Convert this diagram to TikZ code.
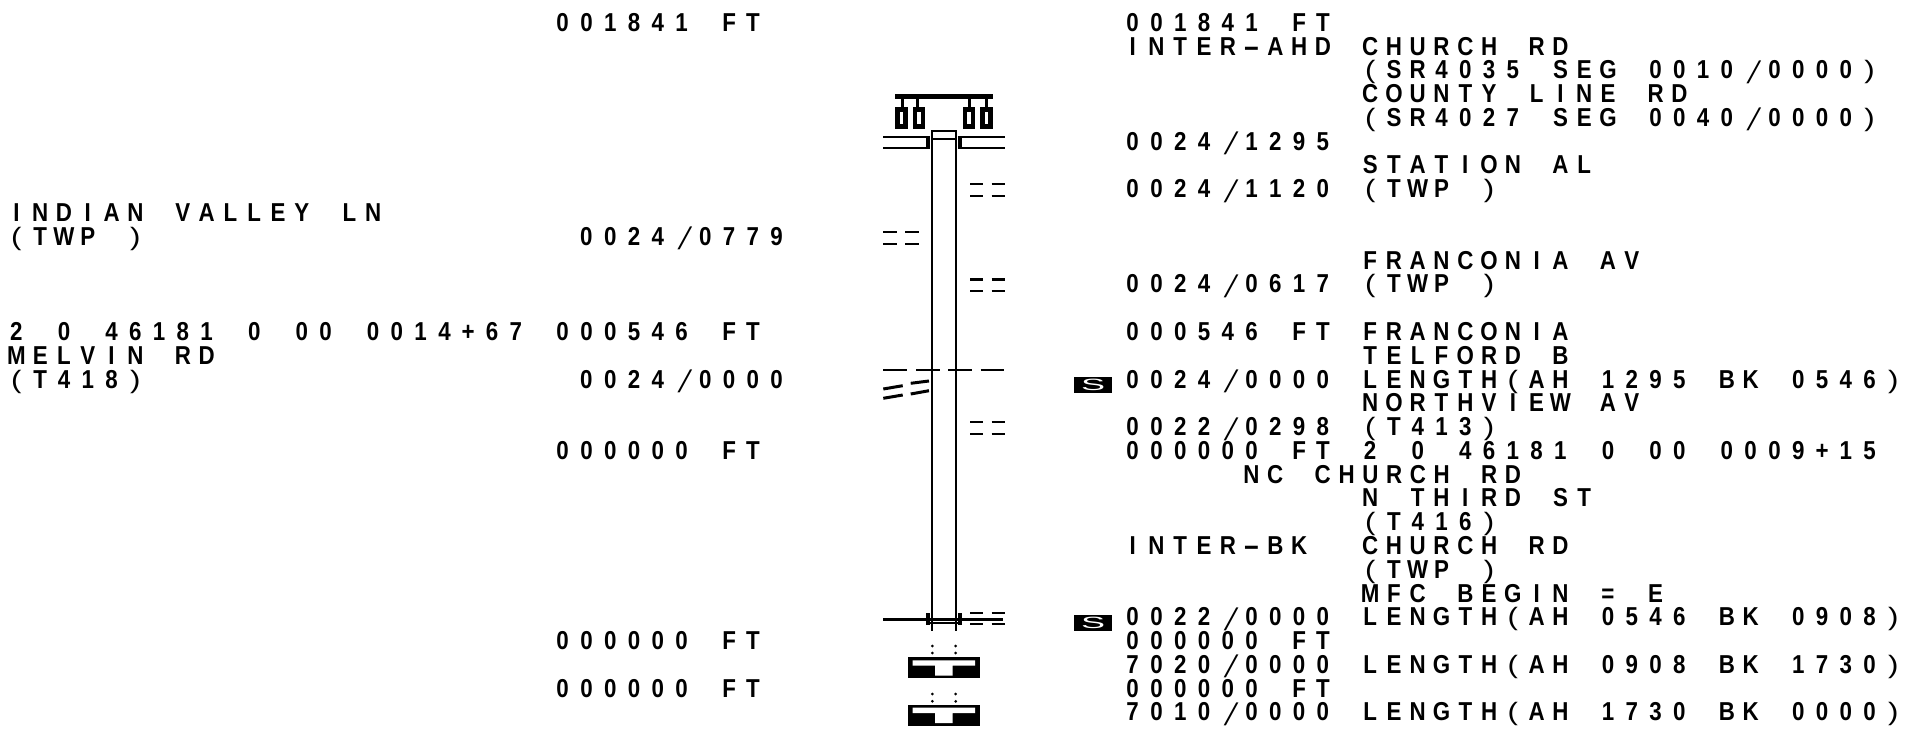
\documentclass[tikz,border=0pt]{standalone}
\usepackage{graphicx}
\usepackage{fontspec}
\setmainfont{Liberation Sans}[BoldFont={Liberation Sans Bold}]
\newfontfamily\slashf{Liberation Sans}[FakeSlant=0.32]
\newlength\cellw \setlength\cellw{23.78pt}
\def\monochar#1{\makebox[\cellw][c]{\ifx#1/\raisebox{-4.5pt}{\scalebox{1.2}[1.3]{\mdseries\slashf/}}\else\ifx#1(\scalebox{1.3}[1.05]{\mdseries(}\else\ifx#1)\scalebox{1.3}[1.05]{\mdseries)}\else\ifx#1-\scalebox{2.1}[1.08]{-}\else\scalebox{.93}[1.08]{#1}\fi\fi\fi\fi}}
\def\monoword#1{\monoloop#1\monoend}
\def\monoloop#1{\ifx#1\monoend\else\monochar{#1}\expandafter\monoloop\fi}
\def\monosplit#1 #2\monostop{\monoword{#1}\ifx\relax#2\relax\else\makebox[\cellw]{ }\monosplit#2\monostop\fi}
\def\monoline#1{\monosplit#1 \monostop}
\newcommand\tl[4]{\node[txt] (#1) at ({1120.8+23.75*(#2)},{31.3+23.78*(#3)}) {\monoline{#4}};}
\tikzset{
  txt/.style={anchor=base west,inner sep=0pt,outer sep=0pt,font=\fontsize{24}{24}\selectfont\bfseries,text=black},
  ln/.style={line width=2.3pt,black,line cap=butt},
  thick2/.style={line width=4.2pt,black,line cap=butt},
  mark2/.style={fill=black,draw=none},
  hole/.style={fill=white,draw=none},
  sbox/.style={fill=black,minimum width=38pt,minimum height=16pt,inner sep=0pt,text=white,font=\fontsize{24}{24}\selectfont}
}
\begin{document}
\begin{tikzpicture}[x=1pt,y=-1pt]
\fill[white] (0,0) rectangle (1907,736);
\useasboundingbox (0,0) rectangle (1907,736);
% left text
\tl{l1}{-24}{0}{001841 FT}
\tl{l2}{-47}{8}{INDIAN VALLEY LN}
\tl{l3}{-47}{9}{(TWP )}
\tl{l4}{-23}{9}{0024/0779}
\tl{l5}{-47}{13}{2 0 46181 0 00 0014+67}
\tl{l6}{-24}{13}{000546 FT}
\tl{l7}{-47}{14}{MELVIN RD}
\tl{l8}{-47}{15}{(T418)}
\tl{l9}{-23}{15}{0024/0000}
\tl{l10}{-24}{18}{000000 FT}
\tl{l11}{-24}{26}{000000 FT}
\tl{l12}{-24}{28}{000000 FT}
% right text, first column
\tl{a0}{0}{0}{001841 FT}
\tl{a1}{0}{1}{INTER-AHD}
\tl{a5}{0}{5}{0024/1295}
\tl{a7}{0}{7}{0024/1120}
\tl{a11}{0}{11}{0024/0617}
\tl{a13}{0}{13}{000546 FT}
\tl{a15}{0}{15}{0024/0000}
\tl{a17}{0}{17}{0022/0298}
\tl{a18}{0}{18}{000000 FT}
\tl{a19}{5}{19}{NC CHURCH RD}
\tl{a22}{0}{22}{INTER-BK}
\tl{a25}{0}{25}{0022/0000}
\tl{a26}{0}{26}{000000 FT}
\tl{a27}{0}{27}{7020/0000}
\tl{a28}{0}{28}{000000 FT}
\tl{a29}{0}{29}{7010/0000}
% right text, second column
\tl{b1}{10}{1}{CHURCH RD}
\tl{b2}{10}{2}{(SR4035 SEG 0010/0000)}
\tl{b3}{10}{3}{COUNTY LINE RD}
\tl{b4}{10}{4}{(SR4027 SEG 0040/0000)}
\tl{b6}{10}{6}{STATION AL}
\tl{b7}{10}{7}{(TWP )}
\tl{b10}{10}{10}{FRANCONIA AV}
\tl{b11}{10}{11}{(TWP )}
\tl{b13}{10}{13}{FRANCONIA}
\tl{b14}{10}{14}{TELFORD B}
\tl{b15}{10}{15}{LENGTH(AH 1295 BK 0546)}
\tl{b16}{10}{16}{NORTHVIEW AV}
\tl{b17}{10}{17}{(T413)}
\tl{b18}{10}{18}{2 0 46181 0 00 0009+15}
\tl{b20}{10}{20}{N THIRD ST}
\tl{b21}{10}{21}{(T416)}
\tl{b22}{10}{22}{CHURCH RD}
\tl{b23}{10}{23}{(TWP )}
\tl{b24}{10}{24}{MFC BEGIN = E}
\tl{b25}{10}{25}{LENGTH(AH 0546 BK 0908)}
\tl{b27}{10}{27}{LENGTH(AH 0908 BK 1730)}
\tl{b29}{10}{29}{LENGTH(AH 1730 BK 0000)}
% S markers
\node[sbox] (s1) at (1093,385.3) {\scalebox{1.5}[.68]{S}};
\node[sbox] (s2) at (1093,622.6) {\scalebox{1.5}[.68]{S}};
% pier cap and columns
\fill[mark2] (895,94) rectangle (993,99.3);
\foreach \x in {902,917.7,969,986.3}{
  \draw[line width=3pt] (\x,99) -- (\x,107);
}
\foreach \x in {901.3,919,968.8,986.4}{
  \fill[mark2] (\x-6.3,106.7) rectangle (\x+6.3,129);
  \fill[hole] (\x-1.7,111.7) rectangle (\x+1.7,124);
}
\draw[ln] (932.3,131) rectangle (955.7,139);
\draw[ln] (932.3,131) -- (932.3,631);
\draw[ln] (955.7,131) -- (955.7,631);
\draw[ln] (883,137.3) -- (929,137.3);
\draw[ln] (883,147.7) -- (929,147.7);
\draw[ln] (959,137.3) -- (1005,137.3);
\draw[ln] (959,147.7) -- (1005,147.7);
\draw[thick2] (927.7,136.3) -- (927.7,148.7);
\draw[thick2] (960.2,136.3) -- (960.2,148.7);
% short dashes
\foreach \y in {184.3,196,279.5,291.2,421.7,433.7,612.7,623.7}{
  \draw[ln] (970,\y) -- (983.3,\y);
  \draw[ln] (991.5,\y) -- (1005,\y);
}
\foreach \y in {232,243.7}{
  \draw[ln] (883,\y) -- (897,\y);
  \draw[ln] (905,\y) -- (919,\y);
}
% long dashes
\draw[ln] (883.3,369.7) -- (907.3,369.7);
\draw[ln] (916,369.7) -- (940,369.7);
\draw[ln] (948,369.7) -- (972.3,369.7);
\draw[ln] (980.7,369.7) -- (1004,369.7);
% skewed dashes
\draw[line width=3pt] (883.3,389) -- (902.7,385.7);
\draw[line width=3pt] (883.3,398.3) -- (902.7,395);
\draw[line width=3pt] (910.7,383.3) -- (929,381);
\draw[line width=3pt] (910.7,394) -- (929,390.7);
% lower abutment line
\draw[line width=2.8pt] (883,619.7) -- (1003,619.7);
\draw[ln] (930,623.3) -- (958,623.3);
\draw[thick2] (927.8,613.3) -- (927.8,625);
\draw[thick2] (960.3,613.3) -- (960.3,625);
% dots and T sections
\foreach \y in {646,653,694,701.3}{
  \fill (932.3,\y) circle (1.5pt);
  \fill (955.7,\y) circle (1.5pt);
}
\foreach \y in {657.3,704.7}{
  \fill[mark2] (908.3,\y) rectangle (980,\y+21);
  \fill[hole] (912.7,\y+3) -- (975,\y+3) -- (975,\y+8.4) -- (952.7,\y+8.4) -- (952.7,\y+18.4) -- (935,\y+18.4) -- (935,\y+8.4) -- (912.7,\y+8.4) -- cycle;
}
\end{tikzpicture}
\end{document}
